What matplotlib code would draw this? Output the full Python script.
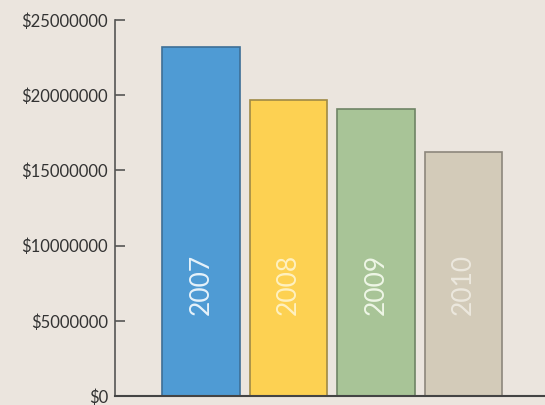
import matplotlib
matplotlib.use("Agg")
import matplotlib.pyplot as plt
from matplotlib.ticker import FuncFormatter

years = ["2007", "2008", "2009", "2010"]
revenue = [23200000, 19650000, 19100000, 16200000]
bar_colors = ["#4f9bd4", "#fdd152", "#a8c497", "#d3cbb9"]
edge_colors = ["#3d6f96", "#a08a45", "#6f8465", "#8d877c"]
label_colors = ["#e6f2fa", "#fff1c0", "#eef6e6", "#ece8de"]
yticks = [0, 5000000, 10000000, 15000000, 20000000, 25000000]

bg = "#ebe5de"
fig = plt.figure(figsize=(5.45, 4.05), dpi=100, facecolor=bg)
ax = fig.add_axes([0.211, 0.022, 0.789, 0.929], facecolor=bg)

x = range(len(years))
ax.bar(x, revenue, width=0.89, color=bar_colors, edgecolor=edge_colors, linewidth=1.2)

for i, yr in enumerate(years):
    ax.text(i, 7400000, yr, rotation=90, ha="center", va="center",
            fontsize=19, color=label_colors[i], family="Lato")

ax.set_xlim(-0.983, 3.931)
ax.set_ylim(0, 25000000)
ax.set_yticks(yticks)
ax.yaxis.set_major_formatter(FuncFormatter(lambda v, p: "$%d" % v))
ax.tick_params(axis="y", direction="in", length=7, width=1.2, color="#555555",
               labelsize=12, labelcolor="#333333", pad=5)
for lab in ax.get_yticklabels():
    lab.set_family("Lato")
ax.set_xticks([])
ax.spines["top"].set_visible(False)
ax.spines["right"].set_visible(False)
ax.spines["left"].set_color("#555555")
ax.spines["bottom"].set_color("#444444")
ax.spines["left"].set_linewidth(1.2)
ax.spines["bottom"].set_linewidth(1.5)

fig.savefig("out.png", dpi=100, facecolor=bg)
